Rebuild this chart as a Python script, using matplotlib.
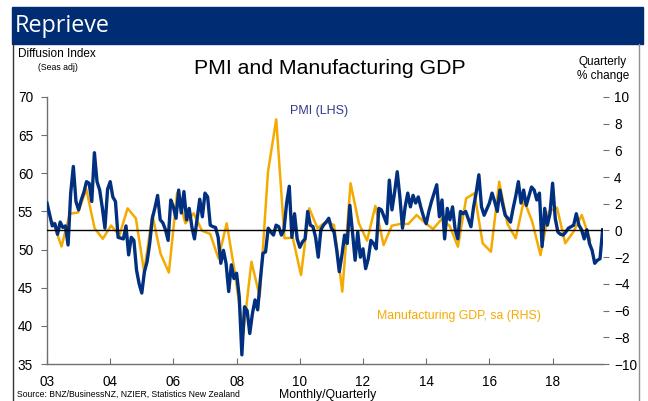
import numpy as np
import matplotlib
matplotlib.use("Agg")
import matplotlib.pyplot as plt
from matplotlib.patches import Rectangle
from matplotlib.lines import Line2D

# ---------------- data ----------------
pmi_start_year = 2002
pmi_values = [
    56.1, 54.6, 53.1, 53.4, 52.0, 53.6, 52.9, 53.1, 50.6, 57.4,
    60.9, 56.3, 55.2, 56.5, 57.5, 58.9, 58.7, 56.3, 62.7, 58.9,
    57.8, 55.5, 52.8, 57.9, 58.9, 56.9, 56.3, 51.6, 51.5, 51.4,
    53.1, 49.3, 51.6, 51.2, 47.3, 45.5, 44.3, 47.1, 48.4, 50.8,
    54.1, 55.5, 57.1, 53.9, 53.5, 52.6, 51.2, 56.5, 55.6, 54.1,
    57.8, 54.8, 57.6, 53.9, 55.4, 53.0, 51.4, 54.0, 56.6, 54.3,
    57.4, 56.9, 53.2, 53.0, 52.9, 51.6, 48.2, 49.9, 48.2, 44.5,
    48.0, 46.2, 46.9, 43.8, 36.2, 42.5, 42.0, 39.0, 41.6, 43.4,
    42.1, 46.0, 49.5, 49.7, 52.8, 52.3, 51.9, 53.2, 53.0, 51.9,
    52.6, 56.1, 58.3, 51.6, 54.7, 51.4, 50.3, 51.0, 51.4, 55.0,
    53.2, 53.0, 51.6, 49.0, 52.6, 53.2, 53.6, 54.1, 52.8, 52.3,
    50.0, 47.1, 49.3, 51.9, 50.8, 55.8, 52.3, 48.6, 52.3, 49.0,
    50.1, 47.5, 48.8, 51.2, 50.8, 50.1, 55.4, 55.2, 54.3, 53.4,
    59.1, 55.2, 57.5, 60.2, 56.9, 52.8, 55.6, 57.4, 55.6, 57.1,
    56.1, 56.9, 55.5, 54.3, 53.4, 55.0, 56.3, 57.4, 58.5, 54.3,
    56.5, 51.4, 55.4, 53.9, 55.6, 52.6, 51.4, 55.0, 54.7, 55.0,
    54.0, 53.0, 55.6, 57.5, 59.8, 55.6, 54.5, 55.3, 56.1, 57.4,
    56.3, 55.0, 57.8, 56.0, 54.5, 54.1, 53.6, 55.4, 57.0, 58.9,
    56.1, 57.8, 55.8, 57.0, 58.2, 57.8, 56.5, 57.4, 50.4, 55.4,
    53.2, 54.7, 58.7, 54.1, 52.3, 52.0, 51.9, 52.3, 52.8, 53.0,
    53.2, 54.7, 53.2, 52.6, 51.4, 52.6, 50.8, 49.9, 48.2, 48.6,
    48.8, 52.6,
]
gdp_values = [
    0.6, -1.2, 1.25, 1.35, 3.09, 0.17, -0.62, 0.37, -0.38, 1.66,
    0.91, -3.09, 1.16, -1.75, -3.15, 2.83, 0.54, 1.29, -0.01, -0.26,
    -2.08, 0.54, -3.2, -7.7, -2.34, -4.96, 4.40, 8.33, -0.58, -0.54,
    -3.33, 1.66, 0.16, 0.66, 0.41, -4.58, 3.54, 0.54, -0.76, 1.84,
    -1.09, 0.36, 0.49, 0.49, 1.16, 0.58, 0.11, 0.84, 0.34, -1.21,
    2.41, 2.79, -0.96, -1.59, 3.66, 0.49, -0.58, 2.28, 0.66, -1.84,
    1.41, 1.71, -0.96, -0.09, 1.16, -0.71,
]
x_tick_years = [2002, 2004, 2006, 2008, 2010, 2012, 2014, 2016, 2018]
x_tick_labels = ["03", "04", "06", "08", "10", "12", "14", "16", "18"]
left_ticks = [35, 40, 45, 50, 55, 60, 65, 70]
right_ticks = [-10, -8, -6, -4, -2, 0, 2, 4, 6, 8, 10]

pmi_x = pmi_start_year + np.arange(len(pmi_values)) / 12.0
gdp_x = np.arange(len(gdp_values))

NAVY = "#00307f"
ORANGE = "#f5aa00"
BANNER = "#002c73"
FONT = ["Liberation Sans", "DejaVu Sans"]

W, H = 648, 401
fig = plt.figure(figsize=(W / 100, H / 100), dpi=100)

def fx(px):
    return px / W

def fy(py):
    return 1 - py / H

# banner
fig.patches.append(Rectangle((fx(12), fy(44)), fx(643 - 12), 37 / H,
                             transform=fig.transFigure, color=BANNER, zorder=0))
fig.text(fx(15), fy(26), "Reprieve", color="white", fontsize=16.8,
         family=["Open Sans", "DejaVu Sans"], va="center", ha="left")
# frame lines
fig.lines.append(Line2D([fx(12.5), fx(12.5)], [fy(44), 0], transform=fig.transFigure,
                        color="#333333", lw=1.0))
fig.lines.append(Line2D([fx(639), fx(639)], [fy(44), 0], transform=fig.transFigure,
                        color="#909090", lw=1.0))

# axes placement
L, R, T, B = 47, 603, 97, 364
rect = [fx(L), fy(B), fx(R - L), (B - T) / H]

ax = fig.add_axes(rect)
ax.plot(pmi_x, pmi_values, color=NAVY, lw=2.4, zorder=3, solid_joinstyle="round")
ax.set_xlim(2002, 2002 + (R - L) / 31.6)
ax.set_ylim(35, 70)
ax.axhline(52.5, color="black", lw=1.0, zorder=4)
ax.set_xticks(x_tick_years)
ax.set_xticklabels(x_tick_labels)
ax.set_yticks(left_ticks)
for s in ["top", "right"]:
    ax.spines[s].set_visible(False)
for s in ["left", "bottom"]:
    ax.spines[s].set_color("#707070")
    ax.spines[s].set_linewidth(1.0)
ax.tick_params(axis="y", direction="out", length=4, color="#707070", pad=6,
               labelsize=9.8)
ax.tick_params(axis="x", direction="in", length=4, color="#707070", pad=8,
               labelsize=9.8)
for lab in ax.get_xticklabels() + ax.get_yticklabels():
    lab.set_family(FONT)
ax.patch.set_visible(False)

ax2 = fig.add_axes(rect, frameon=False)
ax2.plot(gdp_x, gdp_values, color=ORANGE, lw=1.8, zorder=2, solid_joinstyle="round")
ax2.set_xlim(-0.76, 66.57)
ax2.set_ylim(-10, 10)
ax2.set_xticks([])
ax2.yaxis.tick_right()
ax2.set_yticks(right_ticks)
ax2.spines["right"].set_visible(True)
ax2.spines["right"].set_color("#707070")
for s in ["top", "left", "bottom"]:
    ax2.spines[s].set_visible(False)
ax2.tick_params(axis="y", direction="out", length=4, color="#707070", pad=4,
                labelsize=9.8)
for lab in ax2.get_yticklabels():
    lab.set_family(FONT)
ax.set_zorder(2)
ax2.set_zorder(1)

# texts
fig.text(fx(18), fy(54), "Diffusion Index", fontsize=8.5, family=FONT, va="center", ha="left")
fig.text(fx(38), fy(67), "(Seas adj)", fontsize=6.3, family=FONT, va="center", ha="left")
fig.text(fx(330), fy(68), "PMI and Manufacturing GDP", fontsize=15.3, family=FONT,
         va="center", ha="center")
fig.text(fx(603), fy(62), "Quarterly", fontsize=8.5, family=FONT, va="center", ha="center")
fig.text(fx(603), fy(76), "% change", fontsize=8.5, family=FONT, va="center", ha="center")
fig.text(fx(290), fy(111), "PMI (LHS)", fontsize=9, family=FONT, color="#2e3a8c",
         va="center", ha="left")
fig.text(fx(377), fy(316), "Manufacturing GDP, sa (RHS)", fontsize=8.8, family=FONT,
         color=ORANGE, va="center", ha="left")
fig.text(fx(17), fy(394), "Source: BNZ/BusinessNZ, NZIER, Statistics New Zealand",
         fontsize=6.2, family=FONT, va="center", ha="left")
fig.text(fx(328), fy(395), "Monthly/Quarterly", fontsize=8.8, family=FONT,
         va="center", ha="center")

fig.savefig("out.png", dpi=100)
